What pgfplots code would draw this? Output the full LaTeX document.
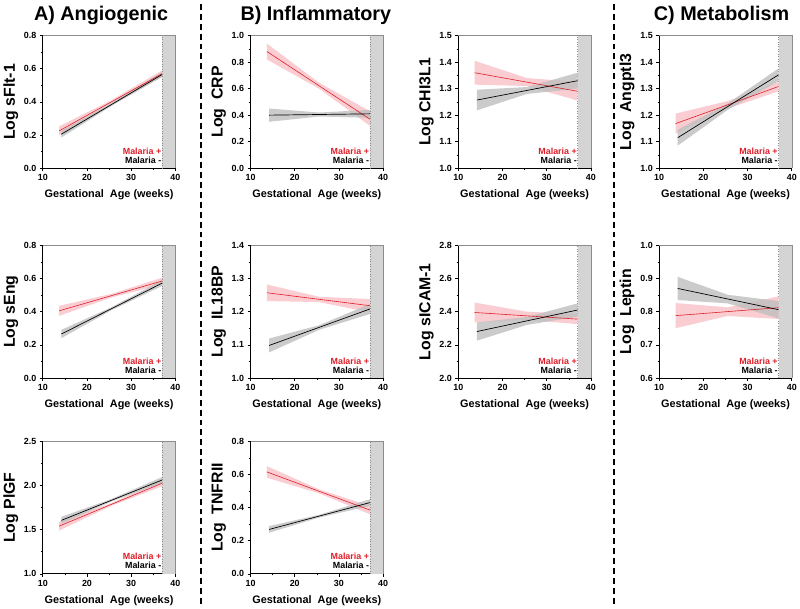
\documentclass[border=0pt]{standalone}
\usepackage{fontspec}
\setmainfont{Liberation Sans}
\usepackage{pgfplots}
\pgfplotsset{compat=1.18}

\definecolor{mred}{RGB}{222,30,40}
\definecolor{pinkband}{RGB}{250,205,210}
\definecolor{greyband}{RGB}{190,190,190}
\definecolor{regiongray}{RGB}{212,212,212}

\pgfplotsset{
  panel/.style={
    scale only axis, width=134pt, height=134pt,
    xmin=10, xmax=40, xtick={10,20,30,40}, minor x tick num=1, minor y tick num=1,
    axis lines*=left, axis line style={-, black, line width=0.8pt},
    tick align=outside, tick style={black, line width=0.6pt},
    major tick length=3pt, minor tick length=1.6pt,
    /pgf/number format/assume math mode=true,
    tick label style={font=\bfseries\fontsize{9}{10}\selectfont},
    yticklabel style={/pgf/number format/.cd, fixed, fixed zerofill, precision=1},
    xlabel={Gestational\ \ Age (weeks)},
    xlabel style={font=\bfseries\fontsize{11}{12}\selectfont, yshift=-2pt},
    ylabel style={font=\bfseries\fontsize{16}{18}\selectfont, yshift=-1pt},
    clip=false,
  },
  rband/.style={draw=none, fill=pinkband, forget plot},
  kband/.style={draw=none, fill=greyband, fill opacity=0.8, forget plot},
  rline/.style={mred, line width=0.6pt, forget plot},
  kline/.style={black, line width=0.7pt, forget plot},
}

\newcommand{\decor}{%
  \fill[regiongray] (rel axis cs:0.9,0) rectangle (rel axis cs:1,1);
  \draw[black!45, dotted, line width=0.5pt] (rel axis cs:0.9,0) -- (rel axis cs:0.9,1);
  \draw[black!45, line width=0.5pt] (rel axis cs:0,1) -- (rel axis cs:1,1) -- (rel axis cs:1,0);
}
\newcommand{\malaria}{%
  \node[anchor=base east, inner sep=0pt, text=mred, font=\bfseries\fontsize{9}{10}\selectfont] at (rel axis cs:0.895,0.105) {Malaria +};
  \node[anchor=base east, inner sep=0pt, text=black, font=\bfseries\fontsize{9}{10}\selectfont] at (rel axis cs:0.895,0.037) {Malaria -};
}

\begin{document}
\begin{tikzpicture}
\path (0pt,0pt) rectangle (800pt,609pt);

\node[anchor=base, font=\bfseries\fontsize{20}{24}\selectfont] at (94pt,589pt) {A) Angiogenic};
\node[anchor=base, font=\bfseries\fontsize{20}{24}\selectfont] at (311pt,589pt) {B) Inflammatory};
\node[anchor=base, font=\bfseries\fontsize{20}{24}\selectfont] at (721pt,589pt) {C) Metabolism};
\draw[black, line width=2pt, dash pattern=on 6pt off 4pt] (195pt,0pt) -- (195pt,609pt);
\draw[black, line width=2pt, dash pattern=on 6pt off 4pt] (612pt,0pt) -- (612pt,609pt);

% ---------- A) sFlt-1
\begin{axis}[panel, at={(35pt,574pt)}, anchor=north west, ymin=0, ymax=0.8, ytick={0,0.2,0.4,0.6,0.8}, ylabel={Log sFlt-1}]
\decor
\addplot[rband] coordinates {(13.7,0.198) (25.5,0.390) (37,0.550) (37,0.590) (25.5,0.410) (13.7,0.252)} -- cycle;
\addplot[kband] coordinates {(14.2,0.185) (25.5,0.375) (37,0.550) (37,0.580) (25.5,0.391) (14.2,0.225)} -- cycle;
\addplot[rline] coordinates {(13.7,0.225) (37,0.570)};
\addplot[kline] coordinates {(14.2,0.205) (37,0.565)};
\malaria
\end{axis}

% ---------- A) sEng
\begin{axis}[panel, at={(35pt,362pt)}, anchor=north west, ymin=0, ymax=0.8, ytick={0,0.2,0.4,0.6,0.8}, ylabel={Log sEng}]
\decor
\addplot[rband] coordinates {(13.7,0.375) (25.5,0.485) (37,0.565) (37,0.605) (25.5,0.507) (13.7,0.435)} -- cycle;
\addplot[kband] coordinates {(14.2,0.240) (25.5,0.408) (37,0.555) (37,0.590) (25.5,0.426) (14.2,0.290)} -- cycle;
\addplot[rline] coordinates {(13.7,0.405) (37,0.585)};
\addplot[kline] coordinates {(14.2,0.265) (37,0.572)};
\malaria
\end{axis}

% ---------- A) PlGF
\begin{axis}[panel, at={(35pt,164pt)}, anchor=north west, ymin=1, ymax=2.5, ytick={1,1.5,2,2.5}, ylabel={Log PlGF}]
\decor
\addplot[rband] coordinates {(13.7,1.490) (25.5,1.770) (37,1.990) (37,2.060) (25.5,1.800) (13.7,1.590)} -- cycle;
\addplot[kband] coordinates {(14.2,1.565) (25.5,1.818) (37,2.030) (37,2.095) (25.5,1.846) (14.2,1.645)} -- cycle;
\addplot[rline] coordinates {(13.7,1.540) (37,2.025)};
\addplot[kline] coordinates {(14.2,1.605) (37,2.062)};
\malaria
\end{axis}

% ---------- B) CRP
\begin{axis}[panel, at={(245pt,574pt)}, anchor=north west, ymin=0, ymax=1, ytick={0,0.2,0.4,0.6,0.8,1}, ylabel={Log\ \ CRP}]
\decor
\addplot[rband] coordinates {(13.7,0.820) (25.5,0.600) (37,0.320) (37,0.430) (25.5,0.645) (13.7,0.940)} -- cycle;
\addplot[kband] coordinates {(14.2,0.350) (25.5,0.390) (37,0.380) (37,0.440) (25.5,0.420) (14.2,0.450)} -- cycle;
\addplot[rline] coordinates {(13.7,0.880) (37,0.370)};
\addplot[kline] coordinates {(14.2,0.400) (37,0.410)};
\malaria
\end{axis}

% ---------- B) IL18BP
\begin{axis}[panel, at={(245pt,362pt)}, anchor=north west, ymin=1, ymax=1.4, ytick={1,1.1,1.2,1.3,1.4}, ylabel={Log\ \ IL18BP}]
\decor
\addplot[rband] coordinates {(13.7,1.232) (25.5,1.229) (37,1.198) (37,1.238) (25.5,1.245) (13.7,1.282)} -- cycle;
\addplot[kband] coordinates {(14.2,1.077) (25.5,1.145) (37,1.193) (37,1.223) (25.5,1.159) (14.2,1.119)} -- cycle;
\addplot[rline] coordinates {(13.7,1.257) (37,1.218)};
\addplot[kline] coordinates {(14.2,1.098) (37,1.208)};
\malaria
\end{axis}

% ---------- B) TNFRII
\begin{axis}[panel, at={(245pt,164pt)}, anchor=north west, ymin=0, ymax=0.8, ytick={0,0.2,0.4,0.6,0.8}, ylabel={Log\ \ TNFRII}]
\decor
\addplot[rband] coordinates {(13.7,0.580) (25.5,0.486) (37,0.360) (37,0.410) (25.5,0.510) (13.7,0.650)} -- cycle;
\addplot[kband] coordinates {(14.2,0.248) (25.5,0.340) (37,0.410) (37,0.450) (25.5,0.356) (14.2,0.288)} -- cycle;
\addplot[rline] coordinates {(13.7,0.615) (37,0.385)};
\addplot[kline] coordinates {(14.2,0.268) (37,0.430)};
\malaria
\end{axis}

% ---------- B) CHI3L1
\begin{axis}[panel, at={(455pt,574pt)}, anchor=north west, ymin=1, ymax=1.5, ytick={1,1.1,1.2,1.3,1.4,1.5}, ylabel={Log CHI3L1}]
\decor
\addplot[rband] coordinates {(13.7,1.315) (25.5,1.310) (37,1.255) (37,1.325) (25.5,1.340) (13.7,1.405)} -- cycle;
\addplot[kband] coordinates {(14.2,1.218) (25.5,1.280) (37,1.300) (37,1.360) (25.5,1.306) (14.2,1.296)} -- cycle;
\addplot[rline] coordinates {(13.7,1.360) (37,1.290)};
\addplot[kline] coordinates {(14.2,1.257) (37,1.330)};
\malaria
\end{axis}

% ---------- B) sICAM-1
\begin{axis}[panel, at={(455pt,362pt)}, anchor=north west, ymin=2, ymax=2.8, ytick={2,2.2,2.4,2.6,2.8}, ylabel={Log sICAM-1}]
\decor
\addplot[rband] coordinates {(13.7,2.335) (25.5,2.350) (37,2.325) (37,2.385) (25.5,2.400) (13.7,2.455)} -- cycle;
\addplot[kband] coordinates {(14.2,2.225) (25.5,2.320) (37,2.370) (37,2.450) (25.5,2.368) (14.2,2.335)} -- cycle;
\addplot[rline] coordinates {(13.7,2.395) (37,2.355)};
\addplot[kline] coordinates {(14.2,2.280) (37,2.410)};
\malaria
\end{axis}

% ---------- C) Angptl3
\begin{axis}[panel, at={(658pt,574pt)}, anchor=north west, ymin=1, ymax=1.5, ytick={1,1.1,1.2,1.3,1.4,1.5}, ylabel={Log\ \ Angptl3}]
\decor
\addplot[rband] coordinates {(13.7,1.130) (25.5,1.225) (37,1.290) (37,1.326) (25.5,1.253) (13.7,1.206)} -- cycle;
\addplot[kband] coordinates {(14.2,1.085) (25.5,1.220) (37,1.328) (37,1.376) (25.5,1.244) (14.2,1.145)} -- cycle;
\addplot[rline] coordinates {(13.7,1.168) (37,1.308)};
\addplot[kline] coordinates {(14.2,1.115) (37,1.352)};
\malaria
\end{axis}

% ---------- C) Leptin
\begin{axis}[panel, at={(658pt,362pt)}, anchor=north west, ymin=0.6, ymax=1, ytick={0.6,0.7,0.8,0.9,1}, ylabel={Log\ \ Leptin}]
\decor
\addplot[rband] coordinates {(13.7,0.750) (25.5,0.787) (37,0.778) (37,0.846) (25.5,0.813) (13.7,0.826)} -- cycle;
\addplot[kband] coordinates {(14.2,0.835) (25.5,0.825) (37,0.780) (37,0.832) (25.5,0.851) (14.2,0.905)} -- cycle;
\addplot[rline] coordinates {(13.7,0.788) (37,0.812)};
\addplot[kline] coordinates {(14.2,0.870) (37,0.806)};
\malaria
\end{axis}
\end{tikzpicture}
\end{document}
